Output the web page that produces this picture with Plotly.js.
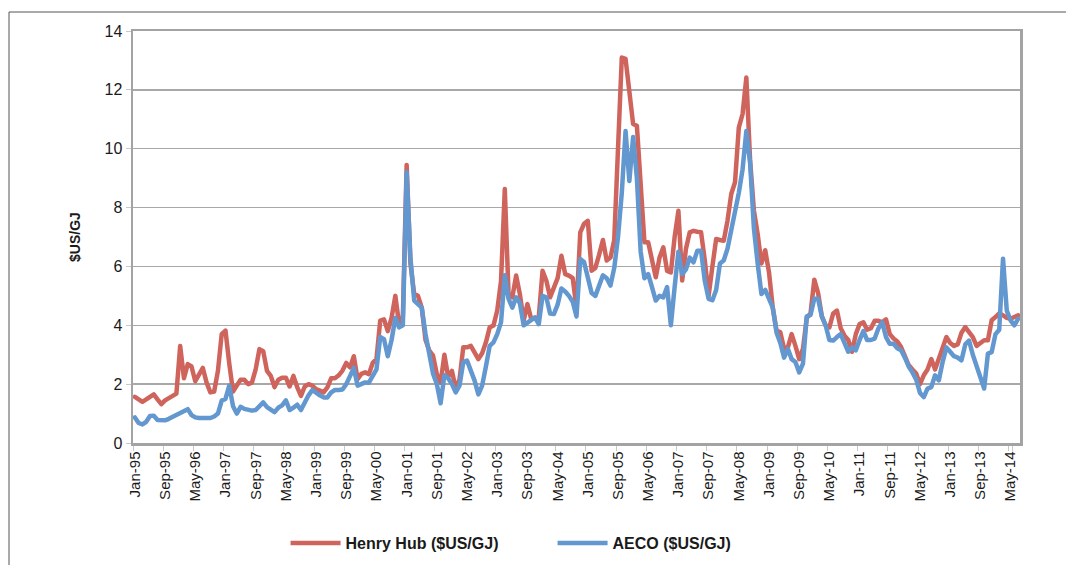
<!DOCTYPE html>
<html><head><meta charset="utf-8">
<script src="https://cdn.plot.ly/plotly-3.0.1.min.js"></script>
<style>
html,body{margin:0;padding:0;background:#fff}
#chart{width:1066px;height:565px}
.scatterlayer .js-line{stroke-linejoin:round;stroke-linecap:round}
</style>
</head><body><div id="chart"></div>
<script>
// Monthly categories Jan-95 .. Jul-14
const monthNames = ['Jan','Feb','Mar','Apr','May','Jun','Jul','Aug','Sep','Oct','Nov','Dec'];
const firstYear = 1995, monthCount = 235;
const months = [];
for (let k = 0; k < monthCount; k++) {
  const yr = firstYear + Math.floor(k / 12);
  months.push(monthNames[k % 12] + '-' + String(yr % 100).padStart(2, '0'));
}
// Tick labels shown on the category axis (every 8th month)
const tickLabels = ['Jan-95','Sep-95','May-96','Jan-97','Sep-97','May-98','Jan-99','Sep-99','May-00','Jan-01',
  'Sep-01','May-02','Jan-03','Sep-03','May-04','Jan-05','Sep-05','May-06','Jan-07','Sep-07','May-08',
  'Jan-09','Sep-09','May-10','Jan-11','Sep-11','May-12','Jan-13','Sep-13','May-14'];

// Henry Hub ($US/GJ), monthly
const henryHub = [
  1.57,1.50,1.40,1.48,1.58,1.65,1.48,1.32,1.45,1.52,1.58,1.68,   // 1995
  3.30,2.20,2.68,2.60,2.10,2.35,2.55,2.05,1.72,1.75,2.45,3.70,   // 1996
  3.82,2.70,1.75,1.95,2.15,2.15,2.00,2.05,2.50,3.19,3.12,2.45,   // 1997
  2.28,1.90,2.15,2.22,2.22,1.92,2.28,1.90,1.60,1.92,2.00,1.95,   // 1998
  1.83,1.78,1.72,1.89,2.20,2.20,2.30,2.46,2.72,2.57,2.95,2.17,   // 1999
  2.35,2.40,2.34,2.72,2.85,4.16,4.20,3.80,4.25,5.00,4.04,4.30,   // 2000
  9.45,6.10,5.06,5.00,4.60,3.50,3.14,2.97,2.34,2.05,3.00,2.25,   // 2001
  2.45,1.85,2.15,3.25,3.25,3.30,3.10,2.85,3.05,3.42,3.93,3.99,   // 2002
  4.50,5.50,8.63,5.06,4.95,5.69,5.06,4.16,4.72,4.21,4.25,4.27,   // 2003
  5.85,5.52,4.95,5.30,5.60,6.36,5.74,5.69,5.60,4.60,7.16,7.45,   // 2004
  7.55,5.85,5.95,6.40,6.90,6.20,6.30,6.90,10.00,13.10,13.05,11.90, // 2005
  10.84,10.78,8.50,6.82,6.82,6.30,5.63,6.30,6.65,5.85,5.80,7.00, // 2006
  7.89,5.52,6.60,7.16,7.21,7.18,7.16,6.20,5.00,6.00,6.93,6.90,   // 2007
  6.87,7.55,8.46,8.86,10.72,11.18,12.42,9.60,7.90,7.10,6.10,6.55, // 2008
  5.80,4.60,3.82,3.76,3.20,3.25,3.70,3.30,2.85,3.20,4.25,4.40,   // 2009
  5.55,5.10,4.30,4.00,3.93,4.40,4.50,3.90,3.65,3.50,3.10,3.70,   // 2010
  4.04,4.10,3.85,3.90,4.15,4.15,4.10,4.20,3.70,3.55,3.45,3.26,   // 2011
  2.95,2.65,2.50,2.36,2.00,2.30,2.50,2.85,2.50,2.90,3.20,3.60,   // 2012
  3.40,3.30,3.35,3.75,3.94,3.75,3.60,3.30,3.40,3.49,3.49,4.17,   // 2013
  4.28,4.40,4.34,4.25,4.22,4.28,4.34                              // 2014
];
// AECO ($US/GJ), monthly
const aeco = [
  0.87,0.68,0.63,0.72,0.92,0.93,0.78,0.76,0.77,0.82,0.88,0.94,   // 1995
  0.99,1.08,1.15,0.95,0.87,0.85,0.85,0.85,0.85,0.90,1.00,1.44,   // 1996
  1.50,1.95,1.25,1.00,1.23,1.16,1.12,1.10,1.12,1.23,1.38,1.22,   // 1997
  1.12,1.05,1.20,1.28,1.45,1.12,1.20,1.30,1.12,1.40,1.62,1.80,   // 1998
  1.70,1.62,1.55,1.55,1.72,1.80,1.80,1.82,2.00,2.25,2.55,1.95,   // 1999
  2.00,2.06,2.05,2.25,2.50,3.60,3.53,2.95,3.50,4.25,3.93,4.00,   // 2000
  9.20,6.30,4.84,4.72,4.60,3.70,3.00,2.35,2.00,1.35,2.30,2.20,   // 2001
  2.00,1.72,1.95,2.75,2.80,2.50,2.12,1.65,1.95,2.60,3.30,3.42,   // 2002
  3.70,4.10,5.70,4.90,4.60,4.95,4.75,4.00,4.10,4.20,4.27,4.04,   // 2003
  5.00,4.95,4.40,4.38,4.70,5.25,5.15,5.00,4.80,4.30,6.25,6.15,   // 2004
  5.60,5.10,5.00,5.40,5.70,5.60,5.35,5.95,7.00,8.50,10.60,8.90,  // 2005
  10.40,9.00,6.50,5.60,5.74,5.30,4.84,5.00,4.95,5.30,4.00,5.30,  // 2006
  6.50,5.74,5.90,6.30,6.14,6.53,6.53,5.50,4.90,4.85,5.20,6.10,   // 2007
  6.20,6.60,7.20,7.80,8.50,9.30,10.60,9.50,7.30,6.10,5.06,5.20,  // 2008
  4.85,4.60,3.75,3.40,2.90,3.20,2.85,2.75,2.40,2.70,4.30,4.35,   // 2009
  4.90,4.90,4.30,4.00,3.50,3.48,3.60,3.70,3.40,3.10,3.25,3.15,   // 2010
  3.50,3.80,3.50,3.50,3.55,3.90,4.10,3.60,3.37,3.37,3.22,3.15,   // 2011
  2.90,2.60,2.40,2.15,1.70,1.56,1.85,1.90,2.30,2.13,2.75,3.25,   // 2012
  3.10,2.95,2.90,2.81,3.35,3.48,3.00,2.60,2.20,1.85,3.04,3.09,   // 2013
  3.70,3.85,6.26,4.50,4.17,4.00,4.22                              // 2014
];

const seriesNames = ['Henry Hub ($US/GJ)', 'AECO ($US/GJ)'];
const seriesColors = ['#cf645d', '#6297cf'];

const traces = [
  {x: months, y: henryHub, name: seriesNames[0], type: 'scatter', mode: 'lines',
   line: {color: seriesColors[0], width: 4.5}},
  {x: months, y: aeco, name: seriesNames[1], type: 'scatter', mode: 'lines',
   line: {color: seriesColors[1], width: 4.5}}
];

const sans = 'Liberation Sans, Arial, sans-serif';

const layout = {
  width: 1066, height: 565,
  margin: {l: 133, r: 46, t: 31, b: 122, pad: 0, autoexpand: false},
  paper_bgcolor: '#ffffff', plot_bgcolor: '#ffffff',
  showlegend: true,
  legend: {
    orientation: 'h', x: 0.172, xanchor: 'left', y: -0.243, yanchor: 'middle',
    entrywidth: 202, entrywidthmode: 'pixels', itemwidth: 50,
    font: {family: sans, size: 16, color: '#1a1a1a', weight: 'bold'},
    bgcolor: 'rgba(0,0,0,0)'
  },
  xaxis: {
    type: 'category', range: [-0.5, monthCount - 0.5], automargin: false,
    tickmode: 'array', tickvals: tickLabels, ticktext: tickLabels,
    tickson: 'boundaries', tickangle: -90,
    ticks: 'outside', ticklen: 5, tickwidth: 1, tickcolor: '#c8c8c8',
    tickfont: {family: sans, size: 15, color: '#1a1a1a'},
    showgrid: false, zeroline: false,
    showline: true, linecolor: '#a3a3a3', linewidth: 2.5, mirror: true
  },
  yaxis: {
    range: [0, 14], tickmode: 'linear', tick0: 0, dtick: 2, automargin: false,
    ticks: 'outside', ticklen: 5, tickwidth: 1, tickcolor: '#c8c8c8',
    tickfont: {family: sans, size: 16, color: '#1a1a1a'},
    showgrid: true, gridcolor: '#a8a8a8', gridwidth: 1.3,
    zeroline: false,
    showline: true, linecolor: '#a3a3a3', linewidth: 2.5, mirror: true,
    title: {text: '$US/GJ', standoff: 21,
            font: {family: sans, size: 14, color: '#1a1a1a', weight: 'bold'}}
  },
  shapes: [{
    type: 'rect', xref: 'paper', yref: 'paper',
    x0: (9 - 133) / 887, x1: (1080 - 133) / 887,
    y0: (443 - 580) / 412, y1: (443 - 12) / 412,
    line: {color: '#555555', width: 1}, fillcolor: 'rgba(0,0,0,0)', layer: 'below'
  }]
};

Plotly.newPlot('chart', traces, layout, {displayModeBar: false, staticPlot: true});
</script>
</body></html>
